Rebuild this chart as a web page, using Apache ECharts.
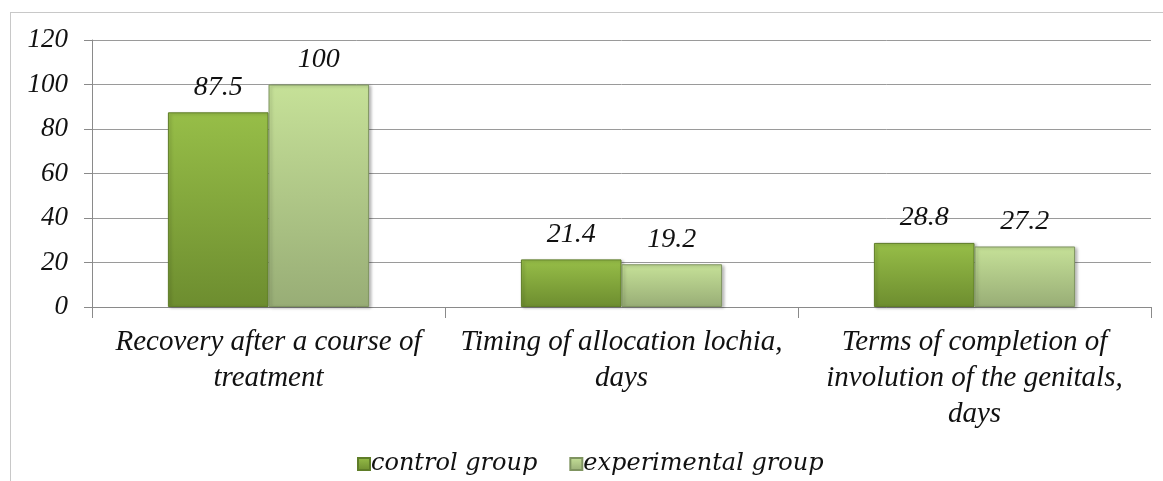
<!DOCTYPE html>
<html><head><meta charset="utf-8">
<script src="https://cdn.jsdelivr.net/npm/echarts@6/dist/echarts.min.js"></script>
<style>html,body{margin:0;padding:0;background:#fff}#c{width:1163px;height:481px}
#frame{position:absolute;left:10px;top:12px;width:1160px;height:480px;border-left:1px solid #c8c8c8;border-top:1px solid #c8c8c8;pointer-events:none}</style>
</head><body><div id="c"></div><div id="frame"></div>
<script>
const categories = ['Recovery after a course of\ntreatment', 'Timing of allocation lochia,\ndays', 'Terms of completion of\ninvolution of the genitals,\ndays'];
const seriesNames = ['control group', 'experimental group'];
const controlValues = [87.5, 21.4, 28.8];
const experimentalValues = [100, 19.2, 27.2];
const yTicks = [0, 20, 40, 60, 80, 100, 120];

const font = '"Liberation Serif", "Times New Roman", serif';
const chart = echarts.init(document.getElementById('c'));
function grad(top, bottom){
  return new echarts.graphic.LinearGradient(0,0,0,1,[{offset:0,color:top},{offset:1,color:bottom}]);
}
const lbl = {show:true, position:'top', distance:11, fontFamily:font, fontStyle:'italic', fontSize:28, color:'#111'};
const shadow = {shadowColor:'rgba(0,0,0,0.25)',shadowBlur:3,shadowOffsetX:2,shadowOffsetY:1};
chart.setOption({
  animation:false,
  grid:{left:92,right:12,top:40,bottom:174},
  legend:{bottom:0,left:352,itemWidth:12,itemHeight:12,itemGap:32,icon:'rect',
    textStyle:{fontFamily:'"DejaVu Serif", serif',fontStyle:'italic',fontSize:24,color:'#111',padding:[0,0,0,-4]},
    data:seriesNames},
  xAxis:{type:'category',data:categories,
    axisLine:{lineStyle:{color:'#8a8a8a'}},
    axisTick:{show:true,length:11,lineStyle:{color:'#8a8a8a'}},
    axisLabel:{fontFamily:font,fontStyle:'italic',fontSize:29,color:'#111',lineHeight:36,margin:17,interval:0}},
  yAxis:{type:'value',min:yTicks[0],max:yTicks[yTicks.length-1],interval:20,
    axisLine:{show:true,lineStyle:{color:'#8a8a8a'}},
    axisTick:{show:true,length:8,lineStyle:{color:'#8a8a8a'}},
    splitLine:{lineStyle:{color:'#9a9a9a'}},
    axisLabel:{fontFamily:font,fontStyle:'italic',fontSize:27,color:'#111',margin:24}},
  series:[
    {name:seriesNames[0],type:'bar',data:controlValues,barGap:'0%',barCategoryGap:'43%',
     itemStyle:Object.assign({color:grad('#97be48','#6d8d2f'),borderColor:'#5f7d28',borderWidth:1},shadow),label:lbl},
    {name:seriesNames[1],type:'bar',data:experimentalValues,
     itemStyle:Object.assign({color:grad('#c6e198','#98ad76'),borderColor:'#7f9460',borderWidth:1},shadow),label:lbl}
  ]
});
</script></body></html>
